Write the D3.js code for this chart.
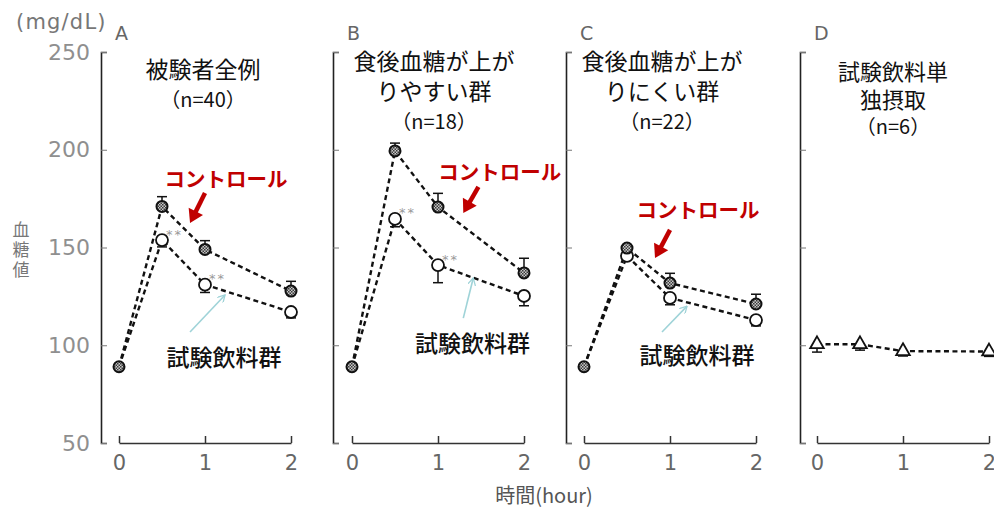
<!DOCTYPE html>
<html><head><meta charset="utf-8">
<script src="https://cdn.jsdelivr.net/npm/d3@7"></script>
<style>body{margin:0;background:#fff} svg{display:block}</style>
</head><body><svg id="c" width="994" height="509"></svg>
<script>
// ---- data ----
const times = [0, 0.5, 1, 2];
const yTicks = [50, 100, 150, 200, 250];
const xTicks = [0, 1, 2];
const panelLetters = ["A", "B", "C", "D"];
const panelTitles = [
  ["被験者全例", "（n=40）"],
  ["食後血糖が上が", "りやすい群", "（n=18）"],
  ["食後血糖が上が", "りにくい群", "（n=22）"],
  ["試験飲料単", "独摂取", "（n=6）"]
];
const controlMean = [[89, 171, 149, 127.7], [89, 199.4, 170.7, 137], [89, 149.7, 131.8, 121.1], null];
const controlErr  = [[0, 5, 4.5, 5], [0, 4, 7, 7.5], [0, 1.5, 5, 5], null];
const testMean    = [[89, 153.8, 131, 117], [89, 164.6, 141, 125.2], [89, 145.7, 124.2, 112.9], [100.5, 100.5, 97, 96.8]];
const testErr     = [[0, 3.5, 4, 3], [0, 4, 9, 5], [0, 1.5, 3.5, 3], [4, 3, 2.5, 2.5]];
const sigTimes    = [[0.5, 1], [0.5, 1], [], []];
const controlLabel = "コントロール";
const testLabel = "試験飲料群";
// annotation anchors in data units (t, mg/dL)
const controlLabelAt = [[1.244, 181], [1.718, 184.5], [1.326, 165.1], null];
const controlArrow   = [[[1.0, 177.9], [0.826, 162.5]], [[1.47, 181], [1.294, 167.6]], [[1.0, 159], [0.826, 144.6]], null];
const testLabelAt    = [[1.221, 89.4], [1.4, 96.5], [1.314, 90.4], null];
const testArrow      = [[[0.826, 106.8], [1.233, 125.7]], [[1.294, 113.9], [1.41, 134.4]], [[0.907, 106.8], [1.198, 120]], null];
const yUnit = "(mg/dL)";
const yTitle = "血糖値";
const xTitle = "時間(hour)";

// ---- layout ----
const axisX = [101, 333, 566, 800];
const x0s = [119, 352, 584, 817];
const xW = 172;
const yTop = 52, yBot = 443;
const titleCx = [203, 434, 662, 893];
const titleY = [[70, 100], [62, 92, 122], [62, 92, 122], [72, 100, 127]];
const CJK = "'Noto Sans CJK JP','Noto Sans CJK SC',sans-serif";
const LAT = "'DejaVu Sans',sans-serif";

const svg = d3.select("#c");
const defs = svg.append("defs");
const pat = defs.append("pattern").attr("id", "hatch").attr("patternUnits", "userSpaceOnUse")
  .attr("width", 3).attr("height", 3);
pat.append("rect").attr("width", 3).attr("height", 3).attr("fill", "#c8c8c8");
pat.append("rect").attr("width", 1.5).attr("height", 1.5).attr("fill", "#3a3a3a");
pat.append("rect").attr("x", 1.5).attr("y", 1.5).attr("width", 1.5).attr("height", 1.5).attr("fill", "#3a3a3a");
defs.append("marker").attr("id", "blueHead").attr("viewBox", "0 0 10 10").attr("refX", 9).attr("refY", 5)
  .attr("markerWidth", 8).attr("markerHeight", 8).attr("markerUnits", "userSpaceOnUse").attr("orient", "auto")
  .append("path").attr("d", "M0,0L9,5L0,10").attr("fill", "none").attr("stroke", "#9fd3d8").attr("stroke-width", 1.6);

const y = d3.scaleLinear().domain([50, 250]).range([yBot, yTop]);

// global labels
svg.append("text").attr("x", 16).attr("y", 29).attr("font-family", LAT).attr("font-size", 21)
  .attr("fill", "#777").attr("letter-spacing", 1.2).text(yUnit);
svg.append("text").attr("x", 21).attr("y", 221).attr("writing-mode", "tb").attr("glyph-orientation-vertical", 0)
  .attr("font-family", CJK).attr("font-size", 17).attr("letter-spacing", 3).attr("fill", "#777").text(yTitle);
svg.append("text").attr("x", 544).attr("y", 503).attr("text-anchor", "middle").attr("font-family", CJK)
  .attr("font-size", 20).attr("fill", "#555").text(xTitle);

// y tick labels (panel A only)
const yl = svg.append("g").attr("transform", `translate(${axisX[0]},0)`)
  .call(d3.axisLeft(y).tickValues(yTicks).tickSize(0).tickPadding(11));
yl.select(".domain").remove();
yl.selectAll("text").attr("font-family", LAT).attr("font-size", 22).attr("fill", "#8f8f8f");

function redArrow(g, p0, p1) {
  const ang = Math.atan2(p1[1] - p0[1], p1[0] - p0[0]);
  const L = 13, W = 8;
  const bx = p1[0] - L * Math.cos(ang), by = p1[1] - L * Math.sin(ang);
  g.append("line").attr("x1", p0[0]).attr("y1", p0[1]).attr("x2", bx + 2 * Math.cos(ang)).attr("y2", by + 2 * Math.sin(ang))
    .attr("stroke", "#c00000").attr("stroke-width", 4.5);
  const nx = -Math.sin(ang), ny = Math.cos(ang);
  g.append("path").attr("d", `M${p1[0]},${p1[1]}L${bx + W * nx},${by + W * ny}L${bx - W * nx},${by - W * ny}Z`)
    .attr("fill", "#c00000");
}

panelLetters.forEach((letter, i) => {
  const x = d3.scaleLinear().domain([0, 2]).range([x0s[i], x0s[i] + xW]);
  const g = svg.append("g");

  // y axis line with inward ticks
  const ya = g.append("g").attr("transform", `translate(${axisX[i]},0)`)
    .call(d3.axisRight(y).tickValues(yTicks).tickSize(6).tickSizeOuter(6).tickFormat(""));
  ya.select(".domain").attr("stroke", "#222").attr("stroke-width", 1.6);
  ya.selectAll(".tick line").attr("stroke", "#777").attr("stroke-width", 1);

  // x axis (ticks up) and labels
  const xa = g.append("g").attr("transform", `translate(0,${yBot})`)
    .call(d3.axisTop(x).tickValues(xTicks).tickSize(7).tickSizeOuter(0).tickFormat(""));
  xa.select(".domain").attr("stroke", "#333").attr("stroke-width", 1.5);
  xa.selectAll(".tick line").attr("stroke", "#333").attr("stroke-width", 1.5);
  const xl = g.append("g").attr("transform", `translate(0,${yBot})`)
    .call(d3.axisBottom(x).tickValues(xTicks).tickSize(0).tickPadding(12).tickFormat(d3.format("d")));
  xl.select(".domain").remove();
  xl.selectAll("text").attr("font-family", LAT).attr("font-size", 21).attr("fill", "#666");

  // panel letter
  g.append("text").attr("x", axisX[i] + 14).attr("y", 40).attr("font-family", LAT).attr("font-size", 19)
    .attr("fill", "#666").text(letter);

  // titles (one text element with a tspan per line)
  const tt = g.append("text").attr("text-anchor", "middle").attr("font-family", CJK).attr("fill", "#111");
  panelTitles[i].forEach((t, k) => {
    const isN = t.startsWith("（");
    tt.append("tspan").attr("x", titleCx[i]).attr("y", titleY[i][k]).attr("dy", "0.35em")
      .attr("font-size", isN ? 20 : (i === 3 ? 22 : 23)).text(t);
  });

  const line = d3.line().x(d => x(d.t)).y(d => y(d.v));
  const tData = times.map((t, k) => ({ t, v: testMean[i][k], e: testErr[i][k] }));
  const cData = controlMean[i] ? times.map((t, k) => ({ t, v: controlMean[i][k], e: controlErr[i][k] })) : null;

  // lines
  g.append("path").attr("d", line(tData)).attr("fill", "none").attr("stroke", "#111")
    .attr("stroke-width", 2.4).attr("stroke-dasharray", "5,3.5");
  if (cData) g.append("path").attr("d", line(cData)).attr("fill", "none").attr("stroke", "#111")
    .attr("stroke-width", 2.4).attr("stroke-dasharray", "5,3.5");

  // error bars
  function errBars(data, dir) {
    data.filter(d => d.e > 0).forEach(d => {
      const yy = y(d.v + dir * d.e);
      g.append("line").attr("x1", x(d.t)).attr("x2", x(d.t)).attr("y1", y(d.v)).attr("y2", yy)
        .attr("stroke", "#111").attr("stroke-width", 1.5);
      g.append("line").attr("x1", x(d.t) - 5).attr("x2", x(d.t) + 5).attr("y1", yy).attr("y2", yy)
        .attr("stroke", "#111").attr("stroke-width", 1.5);
    });
  }
  errBars(tData, -1);
  if (cData) errBars(cData, 1);

  // markers
  if (cData) {
    g.selectAll(".open").data(tData.filter(d => d.t > 0)).enter().append("circle")
      .attr("cx", d => x(d.t)).attr("cy", d => y(d.v)).attr("r", 6)
      .attr("fill", "#fff").attr("stroke", "#111").attr("stroke-width", 1.8);
    g.selectAll(".filled").data(cData).enter().append("circle")
      .attr("cx", d => x(d.t)).attr("cy", d => y(d.v)).attr("r", 5.5)
      .attr("fill", "url(#hatch)").attr("stroke", "#111").attr("stroke-width", 2);
  } else {
    g.selectAll(".tri").data(tData).enter().append("path")
      .attr("transform", d => `translate(${x(d.t)},${y(d.v)})`)
      .attr("d", d3.symbol(d3.symbolTriangle, 80))
      .attr("fill", "#fff").attr("stroke", "#111").attr("stroke-width", 1.8);
  }

  // significance
  sigTimes[i].forEach(t => {
    const k = times.indexOf(t);
    g.append("text").attr("x", x(t) + 4).attr("y", y(testMean[i][k]) - 6).attr("dominant-baseline", "central")
      .attr("font-family", LAT).attr("font-size", 13).attr("fill", "#999").attr("letter-spacing", 2).text("**");
  });

  // annotations
  if (controlLabelAt[i]) {
    g.append("text").attr("x", x(controlLabelAt[i][0])).attr("y", y(controlLabelAt[i][1]))
      .attr("text-anchor", "middle").attr("font-family", CJK).attr("font-weight", 700)
      .attr("font-size", 20.5).attr("fill", "#c00000").text(controlLabel);
    const a = controlArrow[i];
    redArrow(g, [x(a[0][0]), y(a[0][1])], [x(a[1][0]), y(a[1][1])]);
    g.append("text").attr("x", x(testLabelAt[i][0])).attr("y", y(testLabelAt[i][1]))
      .attr("text-anchor", "middle").attr("font-family", CJK).attr("font-weight", 500)
      .attr("font-size", 23).attr("fill", "#111").text(testLabel);
    const b = testArrow[i];
    g.append("line").attr("x1", x(b[0][0])).attr("y1", y(b[0][1])).attr("x2", x(b[1][0])).attr("y2", y(b[1][1]))
      .attr("stroke", "#9fd3d8").attr("stroke-width", 1.6).attr("marker-end", "url(#blueHead)");
  }
});
</script></body></html>
